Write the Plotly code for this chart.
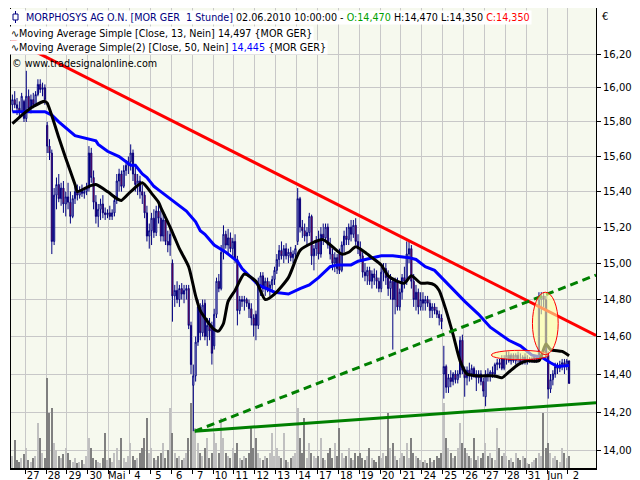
import plotly.graph_objects as go

# ---------------- data ----------------
day_labels = ["27", "28", "29", "30", "Mai", "4", "5", "6", "7", "10", "11", "12", "13", "14",
              "17", "18", "19", "20", "21", "24", "25", "26", "27", "28", "31", "Jun", "2"]
first_day_bars = 6      # bars of 26 April shown
bars_per_day = 9

open_prices = [
    15.90, 15.93, 15.90, 15.88, 15.86, 15.92,
    15.82, 15.95, 15.88, 15.93, 15.90, 15.96, 16.02, 15.99, 16.00,
    15.78, 15.66, 15.62, 15.12, 15.38, 15.44, 15.36, 15.42, 15.33,
    15.37, 15.34, 15.26, 15.36, 15.40, 15.38, 15.41, 15.39, 15.40,
    15.42, 15.62, 15.48, 15.34, 15.26, 15.30, 15.33, 15.28, 15.27,
    15.28, 15.26, 15.28, 15.35, 15.46, 15.50, 15.43, 15.52, 15.55,
    15.57, 15.62, 15.50, 15.44, 15.46, 15.40, 15.38, 15.28, 15.15,
    15.18, 15.25, 15.17, 15.29, 15.25, 15.15, 15.24, 15.12, 15.10,
    15.00, 14.82, 14.85, 14.80, 14.86, 14.83, 14.85, 14.86, 14.66,
    14.34, 14.39, 14.57, 14.76, 14.62, 14.78, 14.60, 14.66, 14.66,
    14.55, 14.72, 14.90, 14.86, 15.06, 15.16, 15.10, 15.14, 15.08,
    15.12, 15.02, 14.74, 14.80, 14.79, 14.80, 14.78, 14.75, 14.70,
    14.72, 14.66, 14.88, 14.93, 14.86, 14.90, 14.86, 14.88, 14.91,
    14.96, 15.02, 15.07, 15.04, 15.08, 15.04, 15.06, 15.03, 15.05,
    15.12, 15.36, 15.20, 15.18, 15.15, 15.17, 15.26, 15.04, 15.08,
    15.12, 15.05, 15.16, 15.14, 15.20, 15.10, 15.05, 15.00, 15.03,
    15.05, 14.96, 15.10, 15.15, 15.13, 15.20, 15.16, 15.21, 15.12,
    15.08, 15.04, 14.95, 14.93, 14.96, 14.90, 14.94, 14.92, 14.90,
    14.86, 14.95, 14.97, 14.92, 14.86, 14.90, 14.80, 14.90, 14.76,
    14.84, 14.92, 14.90, 15.05, 15.08, 14.90, 14.80, 14.84, 14.76,
    14.80, 14.78, 14.80, 14.78, 14.74, 14.76, 14.74, 14.72, 14.70,
    14.40, 14.44, 14.33, 14.38, 14.36, 14.40, 14.37, 14.40, 14.58,
    14.42, 14.38, 14.42, 14.40, 14.43, 14.40, 14.38, 14.40, 14.36,
    14.28, 14.40, 14.39, 14.41, 14.40, 14.45, 14.46, 14.48, 14.43,
    14.48, 14.50, 14.47, 14.50, 14.47, 14.50, 14.48, 14.46, 14.49,
    14.47, 14.48, 14.47, 14.48, 14.49, 14.47, 14.80, 14.82, 14.80,
    14.50, 14.32, 14.37, 14.40, 14.44, 14.43, 14.45, 14.46, 14.44,
    14.47,
]
high_prices = [
    15.96, 15.98, 15.94, 15.92, 15.97, 15.93,
    16.10, 15.99, 15.96, 15.97, 15.98, 16.05, 16.05, 16.03, 16.02,
    15.80, 15.70, 15.64, 15.42, 15.48, 15.50, 15.45, 15.46, 15.40,
    15.45, 15.40, 15.38, 15.43, 15.44, 15.43, 15.44, 15.42, 15.45,
    15.66, 15.65, 15.52, 15.38, 15.33, 15.36, 15.38, 15.31, 15.30,
    15.32, 15.30, 15.38, 15.50, 15.53, 15.52, 15.55, 15.58, 15.60,
    15.67, 15.64, 15.55, 15.50, 15.49, 15.44, 15.40, 15.32, 15.22,
    15.28, 15.30, 15.32, 15.35, 15.30, 15.28, 15.27, 15.18, 15.20,
    15.02, 14.88, 14.90, 14.88, 14.89, 14.88, 14.88, 14.88, 14.68,
    14.45, 14.60, 14.80, 14.78, 14.80, 14.80, 14.70, 14.70, 14.68,
    14.75, 14.92, 14.94, 15.10, 15.21, 15.18, 15.19, 15.17, 15.14,
    15.16, 15.04, 14.82, 14.82, 14.82, 14.81, 14.80, 14.78, 14.72,
    14.74, 14.92, 14.95, 14.95, 14.92, 14.92, 14.90, 14.93, 14.98,
    15.05, 15.10, 15.12, 15.10, 15.11, 15.08, 15.09, 15.07, 15.10,
    15.42, 15.37, 15.24, 15.22, 15.20, 15.28, 15.27, 15.10, 15.15,
    15.18, 15.20, 15.22, 15.22, 15.22, 15.14, 15.08, 15.06, 15.05,
    15.08, 15.12, 15.18, 15.20, 15.22, 15.24, 15.24, 15.25, 15.16,
    15.12, 15.06, 15.00, 14.98, 14.98, 14.96, 14.97, 14.96, 14.92,
    14.98, 15.00, 15.00, 14.96, 14.94, 14.92, 14.92, 14.92, 14.86,
    14.94, 14.98, 15.12, 15.12, 15.10, 14.94, 14.88, 14.86, 14.84,
    14.84, 14.82, 14.82, 14.80, 14.78, 14.78, 14.76, 14.74, 14.72,
    14.55, 14.45, 14.40, 14.42, 14.41, 14.42, 14.42, 14.60, 14.61,
    14.44, 14.44, 14.46, 14.45, 14.44, 14.42, 14.42, 14.42, 14.38,
    14.42, 14.43, 14.42, 14.44, 14.46, 14.48, 14.48, 14.50, 14.50,
    14.52, 14.52, 14.51, 14.51, 14.51, 14.52, 14.51, 14.50, 14.51,
    14.50, 14.49, 14.49, 14.50, 14.50, 14.84, 14.84, 14.84, 14.82,
    14.52, 14.40, 14.42, 14.46, 14.46, 14.47, 14.48, 14.48, 14.48,
    14.47,
]
low_prices = [
    15.86, 15.88, 15.84, 15.83, 15.85, 15.80,
    15.80, 15.86, 15.85, 15.88, 15.89, 15.95, 15.97, 15.95, 15.90,
    15.62, 15.58, 15.05, 15.10, 15.30, 15.34, 15.32, 15.28, 15.26,
    15.30, 15.22, 15.25, 15.33, 15.35, 15.36, 15.37, 15.36, 15.38,
    15.40, 15.45, 15.30, 15.22, 15.20, 15.24, 15.25, 15.24, 15.25,
    15.24, 15.24, 15.26, 15.33, 15.40, 15.40, 15.42, 15.49, 15.50,
    15.52, 15.46, 15.40, 15.38, 15.36, 15.33, 15.25, 15.12, 15.08,
    15.10, 15.14, 15.15, 15.22, 15.12, 15.12, 15.10, 15.06, 15.04,
    14.68, 14.76, 14.78, 14.76, 14.80, 14.78, 14.80, 14.64, 14.40,
    14.10, 14.36, 14.55, 14.58, 14.60, 14.58, 14.55, 14.58, 14.45,
    14.53, 14.70, 14.84, 14.85, 15.02, 15.08, 15.05, 15.06, 15.04,
    15.00, 14.66, 14.72, 14.76, 14.74, 14.76, 14.70, 14.66, 14.60,
    14.58, 14.64, 14.82, 14.84, 14.82, 14.84, 14.82, 14.85, 14.88,
    14.94, 14.98, 15.02, 15.00, 15.02, 15.00, 15.01, 15.00, 15.03,
    15.10, 15.17, 15.14, 15.12, 15.10, 15.15, 14.99, 14.96, 15.04,
    15.02, 15.03, 15.10, 15.12, 15.08, 15.02, 14.96, 14.95, 14.94,
    14.94, 14.95, 15.06, 15.10, 15.10, 15.12, 15.14, 15.10, 15.05,
    15.02, 14.92, 14.90, 14.88, 14.88, 14.86, 14.88, 14.86, 14.84,
    14.84, 14.90, 14.88, 14.82, 14.80, 14.53, 14.72, 14.74, 14.74,
    14.80, 14.86, 14.88, 15.00, 14.86, 14.76, 14.74, 14.72, 14.74,
    14.74, 14.74, 14.76, 14.70, 14.70, 14.72, 14.70, 14.66, 14.64,
    14.27, 14.30, 14.30, 14.33, 14.34, 14.35, 14.35, 14.38, 14.40,
    14.28, 14.34, 14.36, 14.37, 14.38, 14.31, 14.35, 14.34, 14.28,
    14.23, 14.36, 14.36, 14.38, 14.38, 14.42, 14.43, 14.42, 14.42,
    14.45, 14.46, 14.45, 14.46, 14.45, 14.46, 14.45, 14.45, 14.45,
    14.45, 14.46, 14.46, 14.46, 14.46, 14.47, 14.72, 14.76, 14.48,
    14.27, 14.30, 14.34, 14.38, 14.40, 14.41, 14.42, 14.40, 14.42,
    14.35,
]
close_prices = [
    15.93, 15.90, 15.88, 15.86, 15.95, 15.82,
    15.95, 15.88, 15.93, 15.90, 15.96, 16.02, 15.99, 16.00, 15.93,
    15.66, 15.62, 15.12, 15.38, 15.44, 15.36, 15.42, 15.33, 15.37,
    15.34, 15.26, 15.36, 15.40, 15.38, 15.41, 15.39, 15.40, 15.42,
    15.62, 15.48, 15.34, 15.26, 15.30, 15.33, 15.28, 15.27, 15.28,
    15.26, 15.28, 15.35, 15.46, 15.50, 15.43, 15.52, 15.55, 15.57,
    15.62, 15.50, 15.44, 15.46, 15.40, 15.38, 15.28, 15.15, 15.18,
    15.25, 15.17, 15.29, 15.25, 15.15, 15.24, 15.12, 15.10, 15.16,
    14.82, 14.85, 14.80, 14.86, 14.83, 14.85, 14.86, 14.66, 14.45,
    14.39, 14.57, 14.76, 14.62, 14.77, 14.60, 14.66, 14.63, 14.51,
    14.72, 14.90, 14.86, 15.06, 15.16, 15.10, 15.14, 15.08, 15.12,
    15.02, 14.74, 14.80, 14.79, 14.80, 14.78, 14.75, 14.70, 14.66,
    14.66, 14.88, 14.93, 14.86, 14.90, 14.86, 14.88, 14.91, 14.96,
    15.02, 15.07, 15.04, 15.08, 15.04, 15.06, 15.03, 15.05, 15.08,
    15.36, 15.20, 15.18, 15.15, 15.17, 15.26, 15.04, 15.08, 15.12,
    15.05, 15.16, 15.14, 15.20, 15.10, 15.05, 15.00, 15.03, 14.97,
    14.96, 15.10, 15.15, 15.13, 15.20, 15.16, 15.21, 15.12, 15.08,
    15.04, 14.95, 14.93, 14.96, 14.90, 14.94, 14.92, 14.90, 14.86,
    14.95, 14.97, 14.92, 14.86, 14.90, 14.80, 14.90, 14.76, 14.84,
    14.92, 14.90, 15.05, 15.08, 14.90, 14.80, 14.84, 14.76, 14.80,
    14.78, 14.80, 14.78, 14.74, 14.76, 14.74, 14.72, 14.70, 14.68,
    14.44, 14.33, 14.38, 14.36, 14.40, 14.37, 14.40, 14.58, 14.42,
    14.38, 14.42, 14.40, 14.43, 14.40, 14.38, 14.40, 14.36, 14.31,
    14.40, 14.39, 14.41, 14.40, 14.45, 14.46, 14.45, 14.43, 14.48,
    14.50, 14.47, 14.50, 14.47, 14.50, 14.48, 14.46, 14.49, 14.47,
    14.48, 14.47, 14.48, 14.49, 14.47, 14.80, 14.82, 14.80, 14.50,
    14.32, 14.37, 14.40, 14.44, 14.43, 14.45, 14.46, 14.44, 14.47,
    14.35,
]
volumes = [
    12, 28, 8, 6, 10, 14,
    20, 8, 6, 10, 12, 45, 30, 15, 10,
    90, 55, 60, 25, 18, 12, 10, 14, 20,
    15, 8, 6, 10, 5, 6, 8, 4, 12,
    30, 20, 10, 8, 6, 5, 10, 35, 8,
    10, 6, 15, 20, 8, 30, 10, 6, 12,
    25, 12, 8, 10, 15, 20, 30, 50, 15,
    20, 10, 8, 12, 15, 25, 10, 18, 60,
    35, 15, 10, 12, 8, 10, 15, 30, 65,
    90, 40, 25, 15, 12, 20, 30, 10, 15,
    35, 25, 15, 50, 30, 15, 12, 10, 20,
    15, 25, 10, 8, 12, 10, 15, 40, 20,
    30, 15, 10, 8, 12, 10, 15, 35, 12,
    20, 12, 10, 35, 8, 6, 10, 12, 15,
    60, 30, 15, 50, 10, 25, 15, 12, 10,
    12, 30, 10, 8, 15, 20, 10, 25, 12,
    40, 15, 10, 12, 20, 10, 8, 15, 12,
    15, 10, 8, 12, 20, 10, 8, 6, 12,
    10, 15, 12, 55, 20, 25, 12, 8, 10,
    15, 12, 25, 10, 30, 15, 12, 10, 8,
    6, 8, 5, 10, 6, 8, 12, 10, 15,
    65, 30, 20, 15, 10, 12, 20, 45, 25,
    20, 15, 12, 10, 30, 8, 12, 10, 15,
    25, 12, 15, 10, 8, 40, 20, 12, 15,
    12, 8, 10, 6, 15, 10, 8, 12, 10,
    5, 4, 6, 8, 10, 15, 12, 55, 20,
    25, 15, 10, 12, 8, 6, 20, 15, 10,
    12,
]

# moving averages (bar index, value)
ma13_bar = [0, 5, 9, 14, 15, 20, 23, 27, 28, 33, 36, 41, 45, 47, 51, 56, 60, 63, 64, 68, 70, 72,
            76, 79, 81, 86, 88, 89, 91, 93, 96, 100, 105, 109, 113, 119, 124, 129, 134, 142, 145,
            148, 152, 155, 159, 162, 166, 169, 172, 176, 179, 182, 184, 187, 190, 193, 196, 201,
            208, 211, 214, 218, 222, 227, 230, 232, 237, 240]
ma13_val = [15.79, 15.85, 15.89, 15.92, 15.91, 15.71, 15.59, 15.44, 15.40, 15.43, 15.44, 15.40,
            15.36, 15.35, 15.40, 15.45, 15.39, 15.34, 15.31, 15.20, 15.14, 15.08, 14.98, 14.82,
            14.74, 14.65, 14.63, 14.63, 14.67, 14.79, 14.85, 14.94, 14.90, 14.80, 14.83, 14.92,
            15.07, 15.11, 15.13, 15.05, 15.06, 15.09, 15.06, 15.03, 14.99, 14.93, 14.90, 14.89,
            14.93, 14.89, 14.89, 14.88, 14.85, 14.74, 14.61, 14.47, 14.40, 14.39, 14.39, 14.38,
            14.41, 14.45, 14.47, 14.47, 14.56, 14.53, 14.52, 14.497]
ma50_bar = [0, 14, 17, 20, 27, 33, 36, 37, 41, 46, 51, 53, 56, 58, 61, 63, 66, 71, 75, 79, 81,
            83, 87, 92, 97, 99, 106, 113, 119, 124, 128, 132, 137, 140, 146, 149, 152, 159, 164,
            171, 174, 178, 182, 188, 195, 201, 206, 214, 219, 224, 228, 232, 235, 240]
ma50_val = [15.86, 15.86, 15.84, 15.80, 15.72, 15.70, 15.69, 15.67, 15.63, 15.60, 15.55, 15.55,
            15.50, 15.48, 15.43, 15.41, 15.38, 15.33, 15.29, 15.23, 15.18, 15.16, 15.10, 15.06,
            15.01, 14.97, 14.88, 14.84, 14.83, 14.86, 14.88, 14.92, 14.98, 14.99, 14.99, 15.01,
            15.02, 15.04, 15.04, 15.03, 15.02, 14.98, 14.96, 14.88, 14.79, 14.72, 14.65, 14.58,
            14.55, 14.50, 14.49, 14.46, 14.44, 14.445]

# hand-drawn trend lines (bar index, price)
resistance_bar = [-0.6, 251.6]
resistance_val = [16.288, 14.606]
support_bar = [78.6, 251.6]
support_val = [14.10, 14.249]
channel_bar = [78.6, 251.6]
channel_val = [14.10, 14.934]

# highlight ellipses (bar index range, price range)
ellipse_spike = dict(b0=224.2, b1=235.3, p0=14.503, p1=14.840)
ellipse_flat = dict(b0=206.5, b1=231.2, p0=14.476, p1=14.526)

price_ticks = [14.0, 14.2, 14.4, 14.6, 14.8, 15.0, 15.2, 15.4, 15.6, 15.8, 16.0, 16.2]

# ---------------- figure ----------------
n = len(close_prices)
xs = list(range(n))
day_start = [first_day_bars + bars_per_day * d - 0.5 for d in range(len(day_labels))]

FONT = "DejaVu Sans"
NAVY = "#000080"
HEAD_SIZE = 9.6

vol_colors = ["#808080" if c < o else "#c0c0c0" for o, c in zip(open_prices, close_prices)]

fig = go.Figure()
fig.add_trace(go.Bar(x=xs, y=volumes, marker=dict(color=vol_colors, line=dict(width=0)),
                     width=0.6, yaxis="y", hoverinfo="skip"))
fig.add_trace(go.Candlestick(
    x=xs, open=open_prices, high=high_prices, low=low_prices, close=close_prices,
    increasing=dict(line=dict(color=NAVY, width=1), fillcolor="#ffffff"),
    decreasing=dict(line=dict(color=NAVY, width=1), fillcolor="#ff0000"),
    whiskerwidth=0, yaxis="y2"))
fig.add_trace(go.Scatter(x=ma50_bar, y=ma50_val, mode="lines", yaxis="y2",
                         line=dict(color="#0000ff", width=3)))
fig.add_trace(go.Scatter(x=ma13_bar, y=ma13_val, mode="lines", yaxis="y2",
                         line=dict(color="#000000", width=3, shape="spline", smoothing=0.6)))
fig.add_trace(go.Scatter(x=resistance_bar, y=resistance_val, mode="lines", yaxis="y2",
                         line=dict(color="#ff0000", width=3)))
fig.add_trace(go.Scatter(x=support_bar, y=support_val, mode="lines", yaxis="y2",
                         line=dict(color="#008000", width=3)))
fig.add_trace(go.Scatter(x=channel_bar, y=channel_val, mode="lines", yaxis="y2",
                         line=dict(color="#008000", width=3, dash="8px,5px")))

shapes = []
for e in (ellipse_flat, ellipse_spike):
    shapes.append(dict(type="circle", xref="x", yref="y2", x0=e["b0"], x1=e["b1"],
                       y0=e["p0"], y1=e["p1"], layer="above",
                       fillcolor="rgba(255,255,160,0.6)", line=dict(color="#ff0000", width=1)))

# header (legend) area, positioned in paper coordinates
L, R, T, B = 3, 52, 0, 20
PW, PH = 640 - L - R, 480 - T - B
def px(xp):
    return (xp - L) / PW
def py(yp):
    return 1 - (yp - T) / PH

shapes.append(dict(type="rect", xref="paper", yref="paper", x0=px(0), x1=px(17), y0=py(17), y1=py(1),
                   fillcolor="#ffffff", line=dict(width=0), layer="above"))
shapes.append(dict(type="line", xref="paper", yref="paper", x0=px(7.5), x1=px(7.5), y0=py(15), y1=py(3),
                   line=dict(color=NAVY, width=1), layer="above"))
shapes.append(dict(type="rect", xref="paper", yref="paper", x0=px(5), x1=px(10), y0=py(12), y1=py(6),
                   fillcolor="#ffffff", line=dict(color=NAVY, width=1), layer="above"))

annotations = [
    dict(x=px(16), y=py(9),
         text=("<span style='color:#000080'>MORPHOSYS AG O.N. [MOR GER &nbsp;1 Stunde]</span>"
               " 02.06.2010 10:00:00 - <span style='color:#00a000'>O:14,470</span>"
               " H:14,470 L:14,350 <span style='color:#ff0000'>C:14,350</span>")),
    dict(x=px(1), y=py(25),
         text="∿Moving Average Simple [Close, 13, Nein] 14,497 {MOR GER}"),
    dict(x=px(1), y=py(40),
         text="∿Moving Average Simple(2) [Close, 50, Nein] <span style='color:#0000ff'>14,445</span> {MOR GER}"),
]
for a in annotations:
    a.update(xref="paper", yref="paper", xanchor="left", yanchor="middle", showarrow=False,
             bgcolor="#ffffff", borderpad=1, font=dict(family=FONT, size=HEAD_SIZE, color="#000000"))
annotations.append(dict(x=px(2), y=py(56), xref="paper", yref="paper", xanchor="left", yanchor="middle",
                        showarrow=False, text="© www.tradesignalonline.com",
                        font=dict(family=FONT, size=HEAD_SIZE, color="#000000")))
annotations.append(dict(x=px(592), y=py(8), xref="paper", yref="paper", xanchor="left", yanchor="middle",
                        showarrow=False, text="€", font=dict(family=FONT, size=10, color="#000000")))

fig.update_layout(
    width=640, height=480,
    margin=dict(l=L, r=R, t=T, b=B, pad=0),
    paper_bgcolor="#ffffff", plot_bgcolor="#f6f9ee",
    separators=",.",
    showlegend=False,
    bargap=0,
    font=dict(family=FONT, size=10, color="#000000"),
    xaxis=dict(range=[-0.6, 251.6], tickmode="array", tickvals=day_start, ticktext=day_labels,
               ticks="outside", ticklen=4, tickcolor="#000000", ticklabelshift=8,
               ticklabelstandoff=-7,
               showgrid=True, gridcolor="#c8c8c8", gridwidth=1, zeroline=False,
               showline=True, linecolor="#000000", linewidth=2,
               rangeslider=dict(visible=False), tickfont=dict(family=FONT, size=10)),
    yaxis=dict(range=[0, 460], visible=False, fixedrange=True),
    yaxis2=dict(type="log", overlaying="y", side="right",
                range=[1.143337, 1.216869], tickmode="array", tickvals=price_ticks,
                tickformat=".3f", ticks="outside", ticklen=4, tickcolor="#000000",
                showgrid=True, gridcolor="#c8c8c8", gridwidth=1, zeroline=False,
                showline=True, mirror=True, linecolor="#000000", linewidth=1,
                tickfont=dict(family=FONT, size=10)),
    shapes=shapes,
    annotations=annotations,
)

fig.write_html("out.html")
